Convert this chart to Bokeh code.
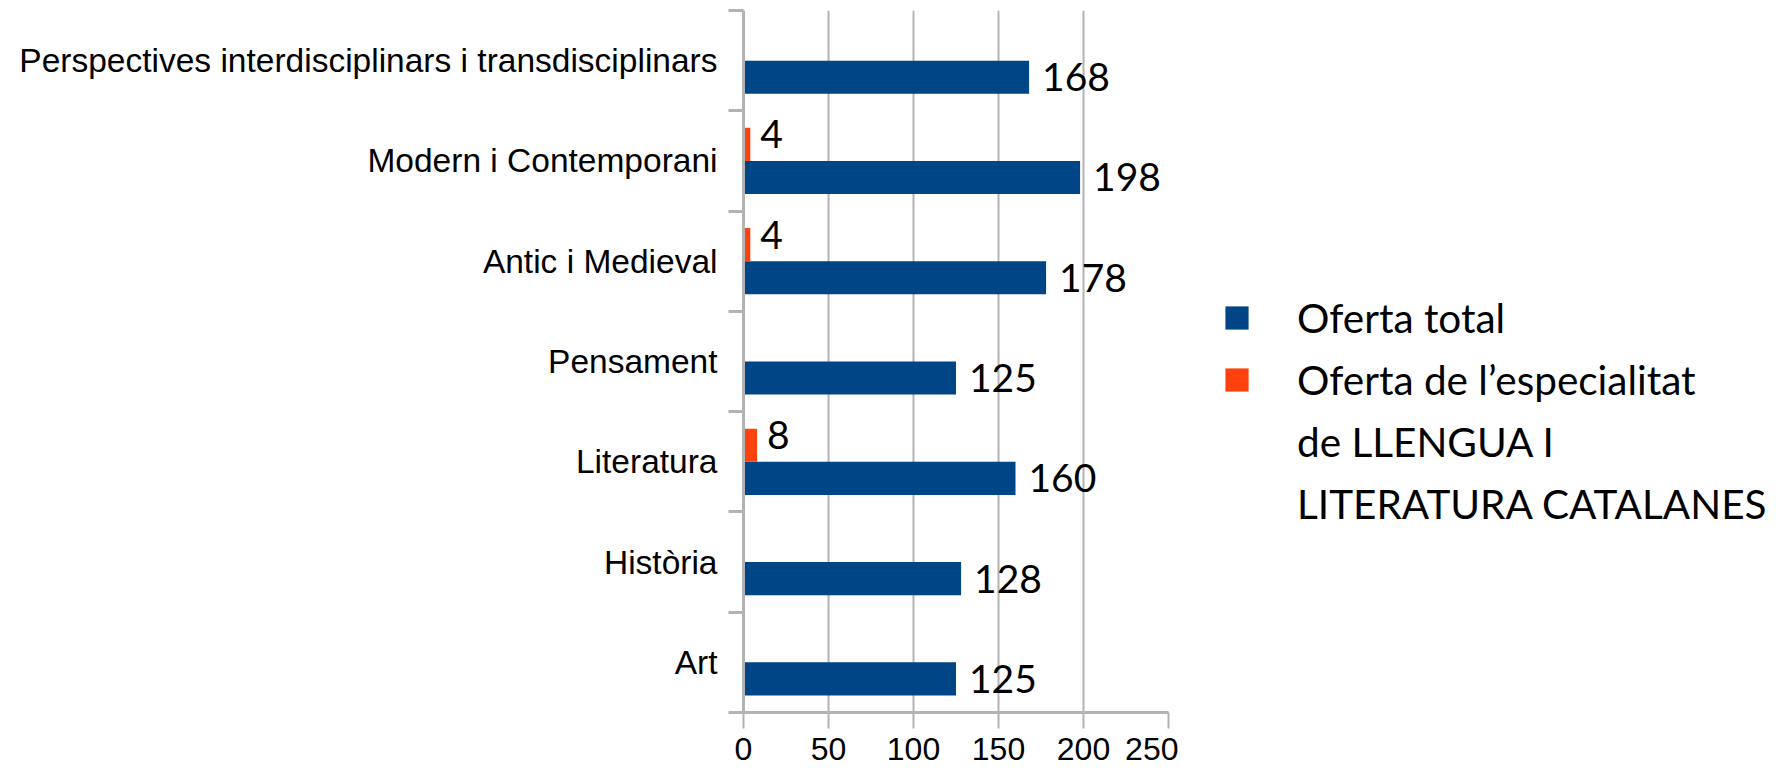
from bokeh.plotting import figure
from bokeh.layouts import row
from bokeh.models import FixedTicker, Legend, LegendItem, Range1d
from bokeh.core.properties import value
from bokeh.embed import file_html
from bokeh.resources import INLINE

categories = ["Art", "Història", "Literatura", "Pensament", "Antic i Medieval",
              "Modern i Contemporani", "Perspectives interdisciplinars i transdisciplinars"]
oferta_total = [125, 128, 160, 125, 178, 198, 168]
oferta_catalanes = [0, 0, 8, 0, 4, 4, 0]
x_ticks = [0, 50, 100, 150, 200, 250]
legend_labels = ["Oferta total", "Oferta de l\u2019especialitat", "de LLENGUA I", "LITERATURA CATALANES"]

BLUE = "#004586"
ORANGE = "#ff420e"
GRID = "#b3b3b3"
AX_FONT = "Liberation Sans"
LBL_FONT = "Lato"

n = len(categories)
centers = [i + 0.5 for i in range(n)]
bar_h = 0.33
blue_y = [c - bar_h / 2 for c in centers]
orange_y = [c + bar_h / 2 for c in centers]

H = 774
p = figure(width=1178, height=H, x_range=Range1d(0, 250), y_range=Range1d(0, n),
           output_backend="svg", toolbar_location=None,
           min_border_left=743, min_border_right=10, min_border_top=10, min_border_bottom=62)
p.outline_line_color = None
p.background_fill_color = "white"

blue_r = p.hbar(y=blue_y, left=0, right=oferta_total, height=bar_h,
                fill_color=BLUE, line_color=None)
orange_r = p.hbar(y=orange_y, left=0, right=oferta_catalanes, height=bar_h,
                  fill_color=ORANGE, line_color=None)

p.text(x=oferta_total, y=blue_y, text=[str(v) for v in oferta_total], x_offset=13,
       text_baseline="middle", text_align="left", text_font=value(LBL_FONT),
       text_font_size="39px", text_color="black")
ox = [v for v in oferta_catalanes if v > 0]
oy = [y for v, y in zip(oferta_catalanes, orange_y) if v > 0]
p.text(x=ox, y=oy, text=[str(v) for v in ox], x_offset=10, y_offset=-10,
       text_baseline="middle", text_align="left", text_font=value(LBL_FONT),
       text_font_size="39px", text_color="black")

p.xgrid.ticker = FixedTicker(ticks=x_ticks)
p.xgrid.grid_line_color = GRID
p.xgrid.grid_line_width = 2
p.ygrid.visible = False

xa = p.xaxis[0]
xa.ticker = FixedTicker(ticks=x_ticks)
xa.major_tick_out = 16
xa.major_tick_in = 0
xa.minor_tick_out = 0
xa.minor_tick_in = 0
xa.axis_line_color = GRID
xa.axis_line_width = 3
xa.major_tick_line_color = GRID
xa.major_tick_line_width = 2
xa.major_label_standoff = 9
xa.major_label_text_font = AX_FONT
xa.major_label_text_font_size = "32px"
xa.major_label_text_color = "black"

ya = p.yaxis[0]
ya.ticker = FixedTicker(ticks=centers, minor_ticks=list(range(n + 1)))
ya.major_label_overrides = {c: name for c, name in zip(centers, categories)}
ya.major_tick_out = 0
ya.major_tick_in = 0
ya.minor_tick_out = 15
ya.minor_tick_in = 0
ya.minor_tick_line_color = GRID
ya.minor_tick_line_width = 3
ya.axis_line_color = GRID
ya.axis_line_width = 3
ya.major_label_standoff = 11
ya.major_label_text_font = AX_FONT
ya.major_label_text_font_size = "33.5px"
ya.major_label_text_color = "black"

# legend panel
lf = figure(width=592, height=H, x_range=Range1d(0, 1), y_range=Range1d(0, 1),
            output_backend="svg", toolbar_location=None, min_border=0)
lf.axis.visible = False
lf.grid.visible = False
lf.outline_line_color = None
lb = lf.hbar(y=[-5], left=[0], right=[0], height=1, fill_color=BLUE, line_color=None)
lo = lf.hbar(y=[-5], left=[0], right=[0], height=1, fill_color=ORANGE, line_color=None)
ld = lf.hbar(y=[-5], left=[0], right=[0], height=1, fill_alpha=0, line_alpha=0)

legend = Legend(items=[LegendItem(label=legend_labels[0], renderers=[lb]),
                       LegendItem(label=legend_labels[1], renderers=[lo]),
                       LegendItem(label=legend_labels[2], renderers=[ld]),
                       LegendItem(label=legend_labels[3], renderers=[ld])],
                location=(44, 184), spacing=13,
                glyph_width=29, glyph_height=29, label_standoff=46, padding=0, margin=0,
                border_line_color=None, background_fill_alpha=0,
                label_text_font=LBL_FONT, label_text_font_size="40.5px",
                label_text_color="black")
lf.add_layout(legend, "center")

open("out.html", "w").write(file_html(row(p, lf), INLINE))
